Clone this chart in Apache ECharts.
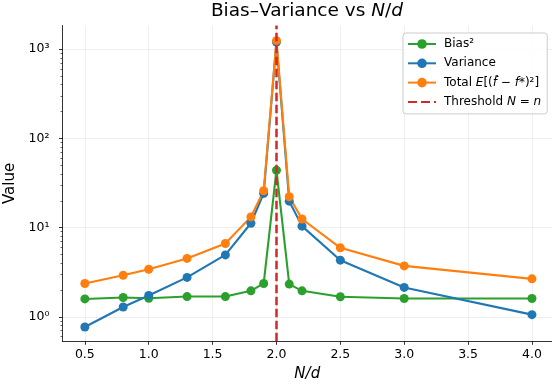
<!DOCTYPE html>
<html>
<head>
<meta charset="utf-8">
<script src="https://cdn.jsdelivr.net/npm/echarts@6/dist/echarts.min.js"></script>
<style>
  html, body { margin: 0; padding: 0; background: #fff; }
  #chart { width: 552px; height: 387px; }
</style>
</head>
<body>
<div id="chart"></div>
<script>
// N/d ratios
const ratios = [0.5, 0.8, 1.0, 1.3, 1.6, 1.8, 1.9, 2.0, 2.1, 2.2, 2.5, 3.0, 4.0]
const bias2 = [1.59, 1.65, 1.62, 1.69, 1.69, 1.96, 2.37, 44, 2.33, 1.96, 1.68, 1.61, 1.61]
const variance = [0.77, 1.29, 1.74, 2.77, 4.95, 11.2, 24.2, 1200, 19.8, 10.4, 4.32, 2.14, 1.06]
const total = [2.37, 2.93, 3.42, 4.52, 6.65, 13.2, 25.9, 1244, 22.2, 12.5, 5.94, 3.73, 2.67]
const threshold = 2.0

const xTicks = [0.5, 1.0, 1.5, 2.0, 2.5, 3.0, 3.5, 4.0]
const yTicks = [1, 10, 100, 1000]
const yMinorTicks = [0.6, 0.7, 0.8, 0.9, 2, 3, 4, 5, 6, 7, 8, 9, 20, 30, 40, 50, 60, 70, 80, 90, 200, 300, 400, 500, 600, 700, 800, 900]
const supers = { 0: '⁰', 1: '¹', 2: '²', 3: '³' }

const font = 'DejaVu Sans'
const chart = echarts.init(document.getElementById('chart'))

const pairs = arr => ratios.map((r, i) => [r, arr[i]])
const lineSeries = (name, color, arr) => ({
    name: name,
    type: 'line',
    data: pairs(arr),
    symbol: 'circle',
    symbolSize: 9,
    lineStyle: { color: color, width: 2.1 },
    itemStyle: { color: color },
    emphasis: { disabled: true }
})

chart.setOption({
    animation: false,
    title: {
        text: 'Bias–Variance vs {i|N}/{i|d}',
        left: 307,
        textAlign: 'center',
        top: 2,
        padding: 0,
        textStyle: {
            fontFamily: font, fontSize: 18.5, fontWeight: 'normal', color: '#000',
            rich: { i: { fontFamily: font, fontSize: 18.5, fontStyle: 'italic', color: '#000' } }
        }
    },
    legend: {
        orient: 'vertical',
        left: 403,
        top: 33,
        padding: [5, 6, 6, 4],
        itemWidth: 28,
        itemHeight: 12,
        itemGap: 7.3,
        backgroundColor: 'rgba(255,255,255,0.85)',
        borderColor: '#cccccc',
        borderWidth: 1,
        borderRadius: 3,
        data: ['Bias²', 'Variance', 'Total', { name: 'Threshold', itemStyle: { opacity: 0 } }],
        formatter: function (name) {
            if (name === 'Total') return 'Total {i|E}[({i|f̂} − {i|f}*)²]'
            if (name === 'Threshold') return 'Threshold {i|N} = {i|n}'
            return name
        },
        textStyle: {
            fontFamily: font, fontSize: 12, color: '#000', padding: [0, 0, 0, 3],
            rich: { i: { fontFamily: font, fontSize: 12, fontStyle: 'italic', color: '#000' } }
        }
    },
    grid: { left: 62.5, right: 0, top: 25.5, bottom: 45.7, outerBoundsMode: 'none' },
    xAxis: {
        type: 'value',
        min: 0.325,
        max: 4.157,
        name: 'N/d',
        nameLocation: 'middle',
        nameGap: 25,
        nameTextStyle: { fontFamily: font, fontSize: 15, fontStyle: 'italic', color: '#000' },
        axisLine: { lineStyle: { color: '#000', width: 0.8 } },
        axisTick: { show: true, length: 3.5, customValues: xTicks, lineStyle: { color: '#000', width: 0.8 } },
        axisLabel: {
            customValues: xTicks, margin: 7,
            fontFamily: font, fontSize: 12.5, color: '#000',
            formatter: v => v.toFixed(1)
        },
        splitLine: { show: true, lineStyle: { color: '#ebebeb', width: 0.8 } }
    },
    yAxis: [{
        type: 'log',
        logBase: 10,
        min: 0.533,
        max: 1840,
        name: 'Value',
        nameLocation: 'middle',
        nameGap: 38,
        nameTextStyle: { fontFamily: font, fontSize: 15, color: '#000' },
        axisLine: { show: true, lineStyle: { color: '#000', width: 0.8 } },
        axisTick: { show: true, length: 3.5, customValues: yTicks, lineStyle: { color: '#000', width: 0.8 } },
        axisLabel: {
            customValues: yTicks, margin: 13,
            fontFamily: font, fontSize: 12.5, color: '#000',
            formatter: v => '10' + supers[Math.round(Math.log10(v))]
        },
        splitLine: { show: true, lineStyle: { color: '#ebebeb', width: 0.8 } }
    }, {
        type: 'log',
        logBase: 10,
        min: 0.533,
        max: 1840,
        position: 'left',
        axisLine: { show: false },
        axisTick: { show: true, length: 2, customValues: yMinorTicks, lineStyle: { color: '#000', width: 0.6 } },
        axisLabel: { show: false },
        splitLine: { show: false }
    }],
    series: [
        lineSeries('Bias²', '#2ca02c', bias2),
        lineSeries('Variance', '#1f77b4', variance),
        lineSeries('Total', '#ff7f0e', total),
        {
            name: 'Threshold',
            type: 'line',
            data: [],
            symbol: 'none',
            lineStyle: { color: '#d62728', width: 2.5, type: [9, 4] },
            itemStyle: { color: '#d62728' },
            markLine: {
                silent: true,
                symbol: 'none',
                label: { show: false },
                lineStyle: { color: '#d62728', width: 2.5, type: [8.5, 3.5] },
                data: [{ xAxis: threshold }]
            }
        }
    ]
})
</script>
</body>
</html>
